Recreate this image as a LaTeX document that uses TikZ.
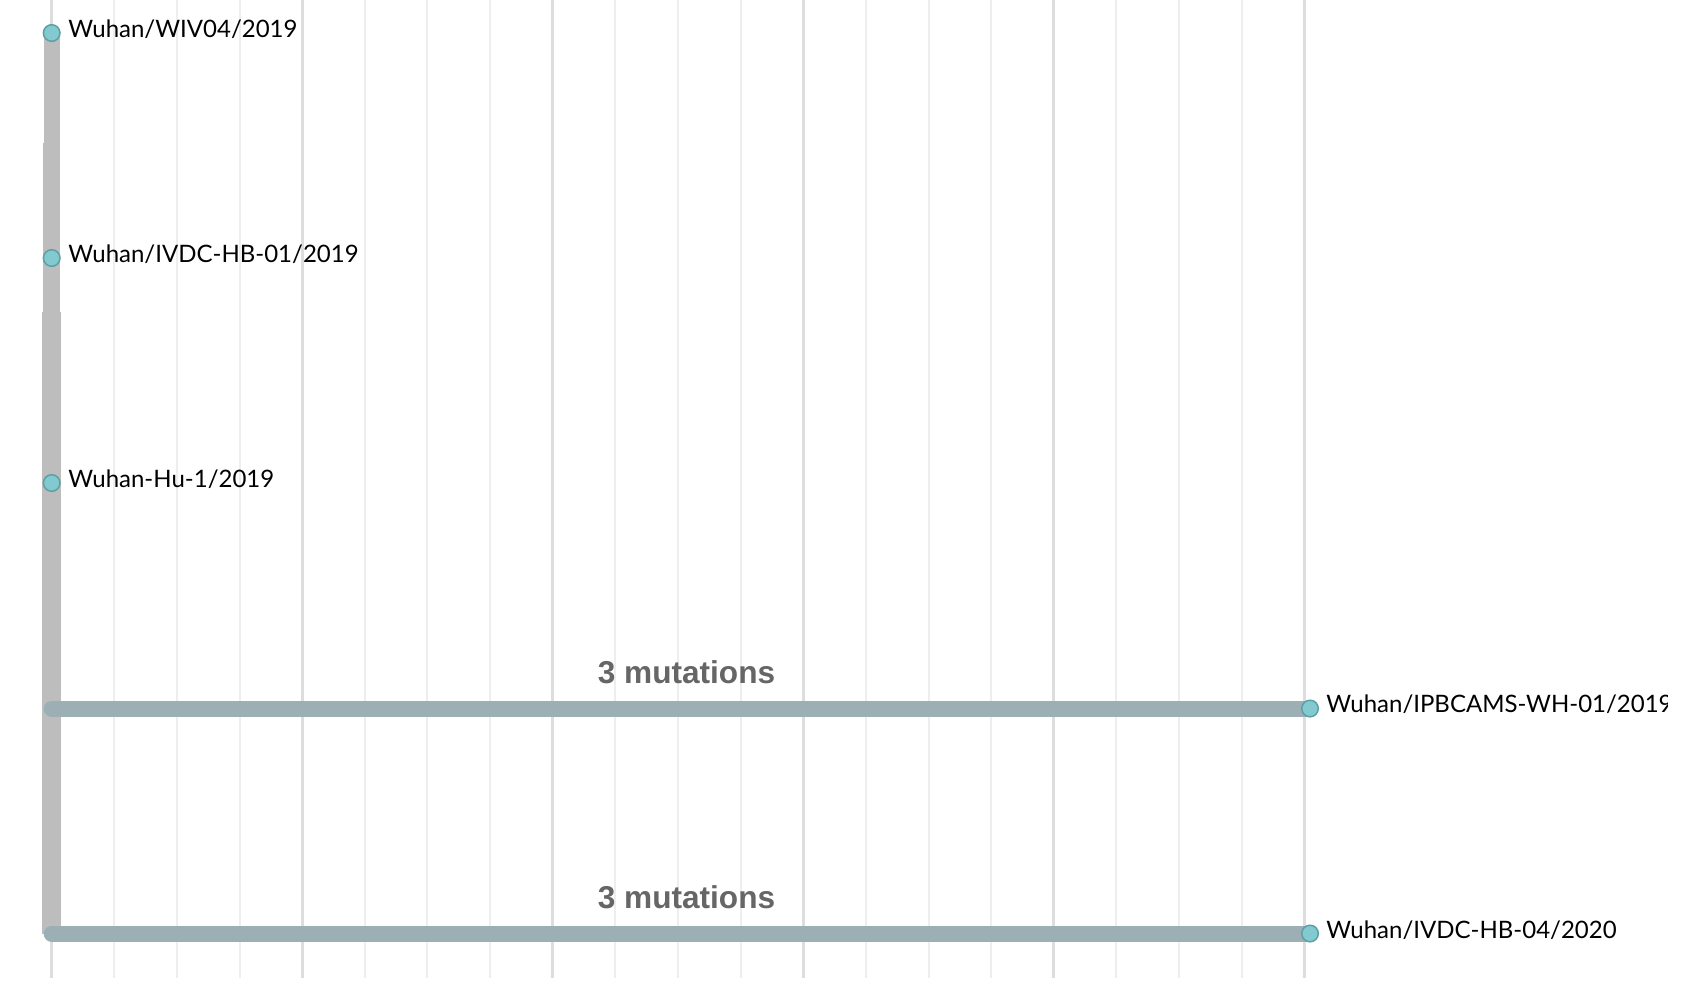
\documentclass[tikz,border=0pt]{standalone}
\usepackage{fontspec}
\newfontfamily\latofont{Lato}
\newfontfamily\arialfont{Liberation Sans}
\definecolor{gmin}{HTML}{EEEEEE}
\definecolor{gmaj}{HTML}{DDDDDD}
\definecolor{stemgray}{HTML}{BDBDBD}
\definecolor{branchc}{HTML}{9BAFB4}
\definecolor{tipfill}{HTML}{82CAD0}
\definecolor{tipdraw}{HTML}{5E9FA5}
\definecolor{mutc}{HTML}{666666}
\tikzset{
 gridminor/.style={draw=gmin, line width=1pt},
 gridmajor/.style={draw=gmaj, line width=1.5pt},
 stembar/.style={draw=stemgray},
 branchbar/.style={draw=branchc, line width=8pt, line cap=round},
 tipnode/.style={circle, fill=tipfill, draw=tipdraw, line width=0.75pt, minimum size=8.3pt, inner sep=0pt},
 leaflabel/.style={anchor=base west, font=\latofont\fontsize{12}{14}\selectfont, inner sep=0pt},
 mutlabel/.style={anchor=base, font=\arialfont\bfseries\fontsize{15.8}{18}\selectfont, text=mutc, inner sep=0pt},
}
\begin{document}
\begin{tikzpicture}[x=0.5pt,y=-0.5pt]
\useasboundingbox (0,0) rectangle (1684,987);
\fill[white] (0,0) rectangle (1684,987);
\clip (0,0) rectangle (1667,987);
% grid
\foreach \k in {0,...,20}{
  \pgfmathsetmacro{\gx}{51.7+62.63*\k}
  \pgfmathtruncatemacro{\gm}{mod(\k,4)}
  \ifnum\gm=0
    \draw[gridmajor] (\gx,0) -- (\gx,978);
  \else
    \draw[gridminor] (\gx,0) -- (\gx,978);
  \fi
}
% coordinates
\coordinate (s1) at (51.7,33);
\coordinate (s2) at (51.7,143);
\coordinate (s3) at (51.7,312);
\coordinate (b4) at (51.7,708.5);
\coordinate (b5) at (51.7,933.5);
% stem
\draw[stembar, line width=8pt] (s1) -- (s2);
\draw[stembar, line width=8.5pt] (s2) -- (s3);
\draw[stembar, line width=9.5pt] (s3) -- (b5);
% tips
\node[tipnode] (t1) at (51.7,33) {};
\node[tipnode] (t2) at (51.7,258) {};
\node[tipnode] (t3) at (51.7,483) {};
\coordinate (t4c) at (1310,708.5);
\coordinate (t5c) at (1310,933.5);
% branches
\draw[branchbar] (b4) -- (t4c);
\draw[branchbar] (b5) -- (t5c);
\node[tipnode] (t4) at (t4c) {};
\node[tipnode] (t5) at (t5c) {};
% labels
\node[leaflabel] (l1) at (68,37.5) {Wuhan/WIV04/2019};
\node[leaflabel] (l2) at (68,262.5) {Wuhan/IVDC-HB-01/2019};
\node[leaflabel] (l3) at (68,487.5) {Wuhan-Hu-1/2019};
\node[leaflabel] (l4) at (1326,712.5) {Wuhan/IPBCAMS-WH-01/2019};
\node[leaflabel] (l5) at (1326,938) {Wuhan/IVDC-HB-04/2020};
\node[mutlabel] (m4) at (686.5,683.5) {3 mutations};
\node[mutlabel] (m5) at (686.5,908.5) {3 mutations};
\end{tikzpicture}
\end{document}
